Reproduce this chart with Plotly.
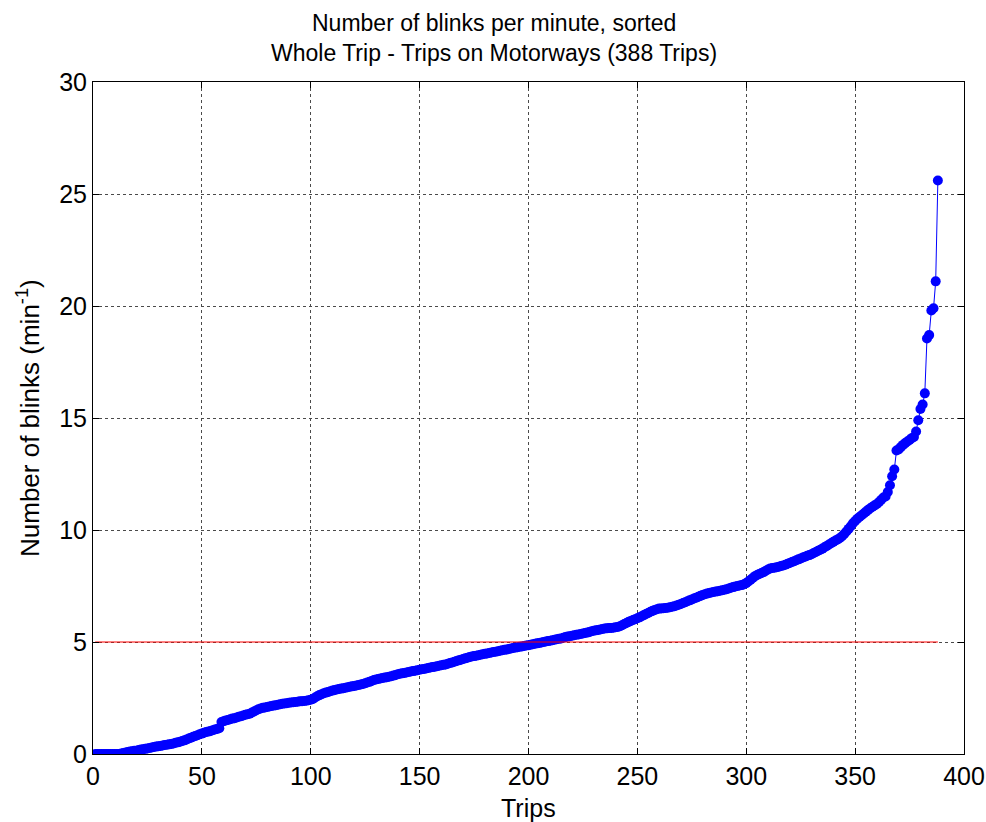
import plotly.graph_objects as go

# Blinks per minute for each motorway trip, sorted ascending (388 trips)
blink_rate = [
    0, 0, 0, 0, 0, 0, 0, 0, 0, 0,
    0, 0, 0.02, 0.05, 0.07, 0.09, 0.11, 0.12, 0.14, 0.15,
    0.18, 0.2, 0.21, 0.23, 0.25, 0.27, 0.29, 0.31, 0.33, 0.35,
    0.36, 0.38, 0.4, 0.41, 0.43, 0.45, 0.47, 0.5, 0.52, 0.55,
    0.58, 0.61, 0.65, 0.69, 0.73, 0.77, 0.8, 0.84, 0.88, 0.91,
    0.95, 0.98, 1.0, 1.03, 1.06, 1.09, 1.12, 1.15, 1.43, 1.46,
    1.5, 1.52, 1.55, 1.58, 1.6, 1.63, 1.66, 1.69, 1.72, 1.75,
    1.78, 1.8, 1.85, 1.9, 1.95, 2.0, 2.03, 2.06, 2.08, 2.1,
    2.12, 2.14, 2.16, 2.18, 2.2, 2.22, 2.24, 2.26, 2.27, 2.29,
    2.3, 2.31, 2.32, 2.33, 2.35, 2.36, 2.37, 2.38, 2.4, 2.42,
    2.46, 2.52, 2.58, 2.63, 2.67, 2.71, 2.74, 2.77, 2.8, 2.83,
    2.86, 2.88, 2.9, 2.92, 2.94, 2.96, 2.98, 3.0, 3.02, 3.04,
    3.06, 3.08, 3.1, 3.13, 3.16, 3.19, 3.22, 3.26, 3.3, 3.33,
    3.35, 3.37, 3.39, 3.41, 3.43, 3.45, 3.47, 3.5, 3.53, 3.56,
    3.58, 3.6, 3.62, 3.64, 3.66, 3.68, 3.7, 3.72, 3.74, 3.76,
    3.78, 3.8, 3.82, 3.84, 3.86, 3.88, 3.9, 3.92, 3.94, 3.96,
    3.98, 4.0, 4.03, 4.06, 4.09, 4.12, 4.15, 4.18, 4.21, 4.24,
    4.27, 4.3, 4.33, 4.35, 4.37, 4.39, 4.41, 4.43, 4.45, 4.47,
    4.49, 4.51, 4.53, 4.55, 4.57, 4.59, 4.61, 4.63, 4.65, 4.67,
    4.69, 4.71, 4.73, 4.75, 4.77, 4.79, 4.8, 4.82, 4.84, 4.86,
    4.88, 4.9, 4.92, 4.94, 4.96, 4.98, 5.0, 5.02, 5.04, 5.06,
    5.08, 5.1, 5.12, 5.14, 5.16, 5.19, 5.22, 5.24, 5.26, 5.28,
    5.3, 5.32, 5.34, 5.36, 5.38, 5.4, 5.42, 5.45, 5.48, 5.5,
    5.52, 5.54, 5.56, 5.58, 5.6, 5.61, 5.62, 5.63, 5.64, 5.66,
    5.67, 5.7, 5.75, 5.8, 5.85, 5.9, 5.94, 5.98, 6.02, 6.06,
    6.1, 6.15, 6.2, 6.25, 6.3, 6.35, 6.39, 6.43, 6.46, 6.49,
    6.5, 6.51, 6.52, 6.53, 6.55, 6.57, 6.6, 6.63, 6.66, 6.7,
    6.74, 6.78, 6.82, 6.86, 6.9, 6.94, 6.98, 7.02, 7.06, 7.1,
    7.13, 7.16, 7.19, 7.21, 7.23, 7.25, 7.27, 7.29, 7.31, 7.33,
    7.36, 7.39, 7.42, 7.45, 7.48, 7.5, 7.52, 7.54, 7.58, 7.63,
    7.7, 7.78, 7.86, 7.94, 7.99, 8.04, 8.08, 8.12, 8.18, 8.24,
    8.28, 8.3, 8.32, 8.34, 8.36, 8.39, 8.42, 8.45, 8.49, 8.53,
    8.57, 8.61, 8.65, 8.69, 8.73, 8.77, 8.81, 8.85, 8.88, 8.92,
    8.97, 9.02, 9.07, 9.12, 9.17, 9.23, 9.29, 9.35, 9.41, 9.47,
    9.53, 9.58, 9.64, 9.72, 9.82, 9.93, 10.05, 10.17, 10.3, 10.4,
    10.5, 10.58, 10.66, 10.74, 10.82, 10.9, 10.97, 11.04, 11.1, 11.16,
    11.25, 11.35, 11.45, 11.5, 11.7, 12.0, 12.4, 12.7, 13.55, 13.6,
    13.7, 13.8, 13.88, 13.95, 14.02, 14.1, 14.15, 14.4, 14.9, 15.4,
    15.6, 16.1, 18.55, 18.7, 19.8, 19.9, 21.1, 25.6,
]
trip_index = list(range(1, len(blink_rate) + 1))

# Reference level drawn across all trips
threshold_value = 5
threshold_x = [1, len(blink_rate)]
threshold_y = [threshold_value, threshold_value]

x_ticks = [0, 50, 100, 150, 200, 250, 300, 350, 400]
y_ticks = [0, 5, 10, 15, 20, 25, 30]

title_lines = ["Number of blinks per minute, sorted",
               "Whole Trip - Trips on Motorways (388 Trips)"]
x_label = "Trips"
y_label = "Number of blinks (min<sup>-1</sup>)"

FONT = "Liberation Sans, Arial, sans-serif"

fig = go.Figure()
fig.add_trace(go.Scatter(
    x=trip_index, y=blink_rate,
    mode="lines+markers",
    line=dict(color="#0000ff", width=1),
    marker=dict(color="#0000ff", size=10, line=dict(width=0)),
    showlegend=False,
))
fig.add_trace(go.Scatter(
    x=threshold_x, y=threshold_y,
    mode="lines",
    line=dict(color="#ff0000", width=1),
    showlegend=False,
))

axis_common = dict(
    showline=True, linecolor="black", linewidth=1, mirror="allticks",
    ticks="inside", ticklen=6, tickcolor="black", tickwidth=1,
    showgrid=True, gridcolor="#4a4a4a", gridwidth=1, griddash="dot",
    zeroline=False, automargin=False,
    tickfont=dict(family=FONT, size=25, color="black"),
)
fig.update_xaxes(range=[0, 400], tickvals=x_ticks, **axis_common)
fig.update_yaxes(range=[0, 30], tickvals=y_ticks, **axis_common)

# Title lines and axis labels, placed relative to the plot frame
annotations = [
    dict(text=title_lines[0], xref="paper", yref="paper", x=0.46, y=1,
         xanchor="center", yanchor="bottom", yshift=44, showarrow=False,
         font=dict(family=FONT, size=23, color="black")),
    dict(text=title_lines[1], xref="paper", yref="paper", x=0.46, y=1,
         xanchor="center", yanchor="bottom", yshift=14, showarrow=False,
         font=dict(family=FONT, size=23, color="black")),
    dict(text=x_label, xref="paper", yref="paper", x=0.5, y=0,
         xanchor="center", yanchor="middle", yshift=-54, showarrow=False,
         font=dict(family=FONT, size=25, color="black")),
    dict(text=y_label, xref="paper", yref="paper", x=0, y=0.5,
         xanchor="center", yanchor="middle", xshift=-65, textangle=-90,
         showarrow=False, font=dict(family=FONT, size=26, color="black")),
]

fig.update_layout(
    width=986, height=822,
    margin=dict(l=93, r=22, t=82, b=68),
    paper_bgcolor="white", plot_bgcolor="white",
    font=dict(family=FONT, size=22, color="black"),
    annotations=annotations,
)

fig.write_html("out.html")
